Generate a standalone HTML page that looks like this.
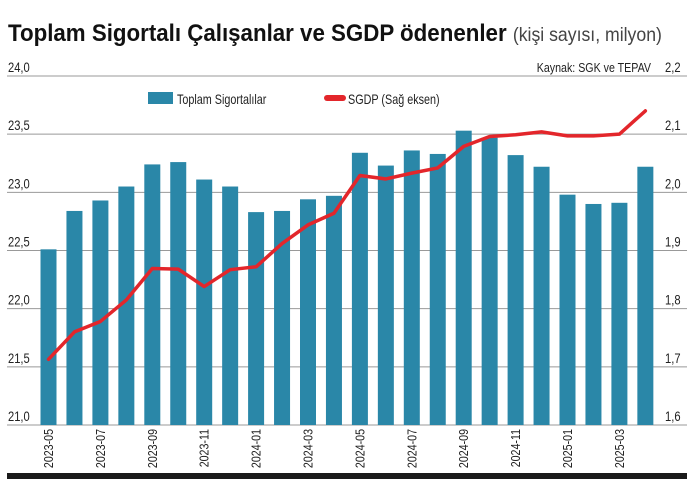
<!DOCTYPE html>
<html><head><meta charset="utf-8"><style>
body{margin:0;background:#fff;}
svg text{font-family:"Liberation Sans",sans-serif;}
</style></head><body>
<svg id="c" width="694" height="485" xmlns="http://www.w3.org/2000/svg">
<text x="8" y="41" font-size="24" font-weight="bold" fill="#111" transform="translate(8,0) scale(0.93,1) translate(-8,0)">Toplam Sigortalı Çalışanlar ve SGDP ödenenler <tspan font-weight="normal" font-size="19" fill="#444">(kişi sayısı, milyon)</tspan></text>
<text x="651" y="72" font-size="13" text-anchor="end" fill="#222" transform="translate(651,0) scale(0.82,1) translate(-651,0)">Kaynak: SGK ve TEPAV</text>
<g id="grid"></g><g id="bars"></g><g id="line"></g><g id="ax"></g>
<rect x="148" y="92" width="25" height="12" fill="#2a87a8"/>
<text x="177" y="104" font-size="13.5" fill="#222" transform="translate(177,0) scale(0.8,1) translate(-177,0)">Toplam Sigortalılar</text>
<line x1="327" y1="98" x2="343" y2="98" stroke="#e3262b" stroke-width="6" stroke-linecap="round"/>
<text x="348" y="104" font-size="13.5" fill="#222" transform="translate(348,0) scale(0.8,1) translate(-348,0)">SGDP (Sağ eksen)</text>
<rect x="7" y="473" width="680" height="6" fill="#1a1a1a"/>
</svg>
<script>
const months=["2023-05","2023-06","2023-07","2023-08","2023-09","2023-10","2023-11","2023-12","2024-01","2024-02","2024-03","2024-04","2024-05","2024-06","2024-07","2024-08","2024-09","2024-10","2024-11","2024-12","2025-01","2025-02","2025-03","2025-04"];
const insured=[22.51,22.84,22.93,23.05,23.24,23.26,23.11,23.05,22.83,22.84,22.94,22.97,23.34,23.23,23.36,23.33,23.53,23.47,23.32,23.22,22.98,22.90,22.91,23.22];
const sgdp=[1.713,1.76,1.778,1.815,1.869,1.868,1.838,1.867,1.872,1.912,1.944,1.964,2.029,2.023,2.033,2.042,2.079,2.096,2.099,2.104,2.097,2.097,2.100,2.140];
const leftTicks=["21,0","21,5","22,0","22,5","23,0","23,5","24,0"];
const leftVals=[21,21.5,22,22.5,23,23.5,24];
const rightTicks=["1,6","1,7","1,8","1,9","2,0","2,1","2,2"];
const ns="http://www.w3.org/2000/svg";
const y0=425,y1=76;
const yL=v=>y0-(v-21)/3*(y0-y1);
const yR=v=>y0-(v-1.6)/0.6*(y0-y1);
const xB=i=>48.5+i*25.95;
function mk(t,a,p){const e=document.createElementNS(ns,t);for(const k in a)e.setAttribute(k,a[k]);p.appendChild(e);return e;}
const g=document.getElementById('grid'),b=document.getElementById('bars'),l=document.getElementById('line'),ax=document.getElementById('ax');
leftVals.forEach((v,i)=>{
  const ln=mk('line',{x1:7,x2:687,y1:yL(v),y2:yL(v),stroke:'#999','stroke-width':1},g);
  
  
  const t=mk('text',{x:8,y:yL(v)-4,'font-size':14,fill:'#222',transform:`translate(8,0) scale(0.8,1) translate(-8,0)`},ax);
  t.textContent=leftTicks[i];
  
  
  const r=mk('text',{x:665,y:yL(v)-4,'font-size':14,fill:'#222',transform:`translate(665,0) scale(0.8,1) translate(-665,0)`},ax);
  r.textContent=rightTicks[i];
  
  
});
insured.forEach((v,i)=>{
  const r=mk('rect',{x:xB(i)-8,y:yL(v),width:16,height:y0-yL(v),fill:'#2a87a8'},b);
  
  
  if(i%2===0){
    const t=mk('text',{x:0,y:0,'font-size':13,fill:'#222','text-anchor':'end',transform:`translate(${xB(i)+4.5},429) rotate(-90) scale(0.82,1)`},ax);
    t.textContent=months[i];
    
    
  }
});
const pts=sgdp.map((v,i)=>xB(i)+','+yR(v)).join(' ');
const pl=mk('polyline',{points:pts,fill:'none',stroke:'#e3262b','stroke-width':3.5,'stroke-linejoin':'round','stroke-linecap':'round'},l);


</script>
</body></html>
